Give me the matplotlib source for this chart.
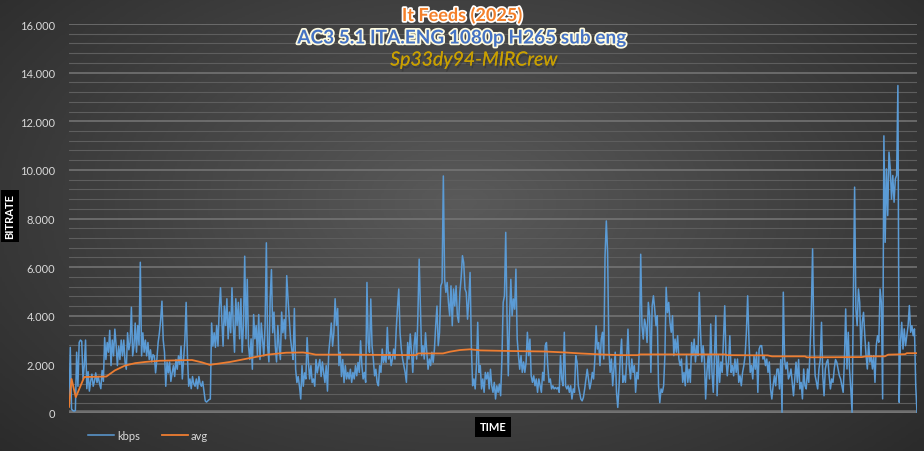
import numpy as np
import matplotlib
matplotlib.use("Agg")
import matplotlib.pyplot as plt
import matplotlib.patheffects as pe
from matplotlib.ticker import MultipleLocator, FuncFormatter

# bitrate samples (kbps), left to right
kbps_part1 = [300, 2700, 160, 100, 80, 100, 2500, 1100, 2900, 3000, 2950, 1400, 1950, 3000, 1000,
              1700, 900, 1300, 1600, 1100, 1300, 1650, 1250, 1500, 1200, 1000, 1750, 1300, 3100,
              2200, 2900, 2500, 3400, 1950, 3000, 2350, 3450, 2800, 1950, 2750, 2200, 3000, 2350,
              3000, 2100, 1800, 3300, 2600, 2900, 4350, 2350, 2750, 3700, 2500, 3600, 2800, 6200,
              2350, 3300, 2500, 3000, 2350, 2900, 2200, 2600, 2100, 2400, 2350, 1650, 2200, 2900,
              3300, 3850, 4600, 3000, 2500, 1100, 2100, 1650, 2100, 1300, 1650, 1950, 1500, 2200,
              1800, 2350, 2000, 2750, 1400, 2200, 3000, 4550, 2350, 1100, 1400, 1000, 1500, 1200,
              1100, 1400, 1000, 1500, 1200, 1100, 1300, 900, 500, 450, 500, 550]
kbps_part2 = [575, 3700, 2750, 3300, 2700, 3600, 2750, 4300, 5150, 3850, 2750, 4400, 3600, 4700,
              3050, 4150, 3300, 5150, 3600, 2500, 4700, 3600, 4550, 3050, 4700, 2500, 3600, 6450,
              3050, 5500, 2750, 2200, 3050, 1800, 4050, 3050, 3600, 2350, 4050, 2200, 3700, 3050,
              2350, 3600, 7000, 2750, 2100, 4700, 5900, 3300, 4150, 2750, 2100, 3600, 2750, 2200,
              4150, 3300, 3850, 3050, 5650, 4700, 3850, 3050, 2600, 2200, 4300, 1800, 1250, 1500,
              1100, 575, 1950, 1100, 1650, 1400, 3100, 2100, 1400, 1950, 1250, 1400, 1100, 2200,
              1650, 1950, 2200, 1500, 2100, 1650, 1250, 1950, 900, 2500, 3050, 3700, 2750, 3300,
              4700, 3600, 4300, 1950, 2500, 1500, 2200, 1250, 1950, 1400]
kbps_part3 = [1670, 1400, 1800, 1260, 1670, 1400, 1950, 1530, 2080, 1670, 2970, 1950, 1400, 1670,
              1260, 5370, 2900, 2500, 4690, 2770, 2220, 1530, 1800, 1260, 1120, 1950, 1670, 2630,
              2080, 2360, 2080, 3520, 2220, 2500, 1950, 2220, 2630, 2220, 3450, 4340, 5100, 3300,
              2630, 2220, 1950, 1670, 1260, 2900, 2220, 3250, 2500, 1670, 2770, 3300, 2220, 4000,
              6330, 4400, 2360, 2770, 2220, 3300, 2500, 1800, 2220, 1950, 2500, 2080, 2630, 3590,
              4400, 2770, 3300, 5230, 5370, 9750, 5500, 4960, 5370, 4550, 4000, 5230, 3590, 5100,
              4400, 5230, 4000, 3730, 4960, 5570, 6470, 6180, 5100, 4960, 3860, 4690, 5780, 2770,
              1120, 1400, 990, 1950, 3730, 1670, 1950, 990, 1400, 850, 1670, 1400]
kbps_part4 = [1670, 990, 1800, 1120, 850, 1260, 575, 1120, 850, 1190, 710, 2220, 4550, 4820, 7430,
              4000, 1530, 3860, 5500, 4000, 4690, 4270, 5920, 3040, 2360, 1800, 2360, 1670, 2100,
              1670, 2100, 3320, 2360, 3040, 1530, 1260, 1530, 1120, 1400, 850, 1400, 1120, 850,
              1670, 1330, 2770, 2900, 1950, 1260, 1400, 990, 1120, 990, 1050, 990, 1050, 850, 2360,
              1400, 1120, 3320, 1120, 990, 1120, 850, 1120, 575, 990, 850, 2360, 2100, 1120, 850,
              575, 500, 640, 990, 1400, 1800, 1400, 990, 1260, 1670, 1400, 2220, 3590, 2630, 2900,
              1950, 3040, 3320, 2220, 6470, 7900, 6600, 2630, 1670, 2220, 1120, 1800, 2500, 850,
              230, 1120, 2360, 3040, 1260, 1530, 1260, 2220, 3450, 1950, 1400]
kbps_part5 = [2220, 1670, 1950, 850, 1670, 1400, 2770, 6530, 3590, 3040, 3860, 3590, 2900, 4550,
              4000, 1670, 4410, 4820, 4270, 3590, 4000, 1120, 425, 990, 850, 1120, 2360, 5170, 4130,
              4550, 3720, 3320, 4000, 2360, 3040, 2500, 3180, 2220, 1950, 2220, 1260, 1670, 1120,
              2360, 1260, 1800, 1260, 2900, 2360, 3040, 2100, 2770, 2360, 4960, 3320, 2100, 2770,
              2220, 575, 1670, 2360, 1400, 3660, 1670, 850, 2360, 4000, 710, 2360, 1260, 2100,
              1670, 3040, 4410, 2220, 1530, 2100, 3180, 1670, 1950, 1530, 2220, 1670, 2220, 1260,
              1530, 1120, 1670, 1950, 2360, 3320, 4820, 3040, 1670, 1950, 1400, 2360, 1800, 2500,
              850, 2630, 2770, 2770, 2220, 2360, 1950, 2220, 1670, 2100, 990, 575, 1120, 1530, 1120,
              1800]
kbps_part6 = [1810, 990, 2200, 30, 4970, 2200, 1810, 2090, 1400, 1540, 1810, 1260, 710,
              1400, 2090, 1260, 2200, 990, 1260, 580, 1810, 1120, 990, 1810, 1260,
              2630, 4140, 6750, 2910, 1540, 1260, 990, 1810, 2200, 3730, 1540, 710,
              1810, 2090, 2200, 1540, 990, 1400, 1260, 1810, 2200, 2090, 1810, 1540,
              1400, 1120, 850, 2200, 4280, 1810, 3320, 1810, 990, 30, 4550, 9290, 4280, 3590, 5100,
              4550, 2360, 3730, 4140, 3180, 2360, 1810, 2910, 2090, 2360, 1810, 2360, 1260, 2770,
              3180, 2910, 5100, 4550, 580, 11400, 7020, 10040, 8120, 10730, 10040, 8800, 9770, 8670,
              9630, 9770, 13470, 440, 2910, 3730, 2630, 3460, 2770, 3180, 3590,
              4420, 3320, 3590, 3180, 3460, 1120, 30]
kbps = kbps_part1 + kbps_part2 + kbps_part3 + kbps_part4 + kbps_part5 + kbps_part6

# running average, read as (% of runtime, kbps)
avg_pct = [0, 0.3, 0.8, 1.8, 4.4, 5.4, 6.6, 7.8, 9.0, 10.7, 14.5, 15.7, 16.6, 19.0, 21.2, 23.4,
           25.6, 27.6, 28.4, 29.1, 32.9, 40.9, 41.2, 44.1, 44.9, 46.1, 47.3, 48.5, 52.0, 56.1,
           58.5, 60.3, 62.6, 65.0, 67.1, 67.3, 77.4, 77.6, 82.4, 82.9, 86.8, 87.0, 93.5, 94.0,
           96.2, 96.6, 98.6, 98.8, 100]
avg_val = [250, 1400, 650, 1480, 1500, 1750, 1950, 2050, 2100, 2150, 2180, 2080, 1980, 2100, 2250,
           2400, 2480, 2490, 2450, 2400, 2400, 2380, 2450, 2450, 2520, 2590, 2620, 2575, 2550, 2530,
           2490, 2450, 2410, 2380, 2380, 2410, 2410, 2380, 2370, 2330, 2330, 2290, 2300, 2330,
           2330, 2400, 2420, 2460, 2460]

title1 = "It Feeds (2025)"
title2 = "AC3 5.1 ITA.ENG 1080p H265 sub eng"
title3 = "Sp33dy94-MIRCrew"

plt.rcParams['font.family'] = ['Lato', 'DejaVu Sans']

W, H = 924, 452
fig = plt.figure(figsize=(W / 100, H / 100), dpi=100)

# dark radial background
bg = fig.add_axes([0, 0, 1, 1], zorder=-5)
yy, xx = np.mgrid[0:1:200j, 0:1:400j]
r = np.sqrt(((xx - 0.5) / 0.75) ** 2 + ((yy - 0.45) / 0.9) ** 2)
bg.imshow(np.clip(r, 0, 1), cmap=matplotlib.colors.LinearSegmentedColormap.from_list(
    "bg", ["#5a5a5a", "#262626"]), aspect="auto", extent=[0, 1, 0, 1], vmin=0, vmax=1)
bg.axis("off")

ax = fig.add_axes([69 / W, 1 - 414 / H, 848 / W, 389 / H])
ax.set_facecolor("none")
for s in ax.spines.values():
    s.set_visible(False)

x = np.arange(len(kbps))
ax.plot(x, kbps, color="#5b9bd5", lw=1.1, zorder=3, label="kbps")
ax.plot(np.array(avg_pct) / 100 * (len(kbps) - 1), avg_val, color="#ed7d31", lw=1.3, zorder=4,
        label="avg")

ax.set_xlim(0, len(kbps) - 1)
ax.set_ylim(0, 16000)
ax.yaxis.set_major_locator(MultipleLocator(2000))
ax.yaxis.set_minor_locator(MultipleLocator(400))
ax.yaxis.set_major_formatter(FuncFormatter(lambda v, p: f"{int(v):,}".replace(",", ".")))
ax.grid(which="major", axis="y", color="#777777", lw=1.1, zorder=0)
ax.grid(which="minor", axis="y", color="#5e5e5e", lw=0.8, zorder=0)
ax.axhline(0, color="#6e6e6e", lw=4, zorder=1)
ax.tick_params(axis="both", which="both", length=0)
ax.tick_params(axis="y", colors="#d9d9d9", labelsize=8, pad=10)
ax.set_xticks([])

# axis titles in black boxes
fig.text(10 / W, 1 - 217 / H, "BITRATE", rotation=90, color="white", fontsize=8,
         fontweight="bold", ha="center", va="center",
         bbox=dict(boxstyle="square,pad=0.35", fc="black", ec="none"))
fig.text(493 / W, 1 - 428 / H, "TIME", color="white", fontsize=8, fontweight="bold",
         ha="center", va="center", bbox=dict(boxstyle="square,pad=0.4", fc="black", ec="none"))

# titles
fig.text(462 / W, 1 - 16 / H, title1, color="#f4802a", fontsize=13, fontweight="bold",
         ha="center", va="center",
         path_effects=[pe.withStroke(linewidth=2.5, foreground="white")])
fig.text(462 / W, 1 - 39 / H, title2, color="#4472c4", fontsize=13.7, fontweight="bold",
         ha="center", va="center",
         path_effects=[pe.withStroke(linewidth=2.5, foreground="#fffbe0")])
fig.text(474 / W, 1 - 61 / H, title3, color="#c9a000", fontsize=14, style="italic",
         ha="center", va="center",
         path_effects=[pe.withSimplePatchShadow(offset=(1, -2), shadow_rgbFace="#222222"),
                       pe.Normal()])

leg = fig.legend(loc="lower left", bbox_to_anchor=(78 / W, 0.0), ncol=2, frameon=False,
                 fontsize=8, handlelength=2.3, columnspacing=2.0, handletextpad=0.3)
for t in leg.get_texts():
    t.set_color("#d9d9d9")

fig.savefig("out.png", dpi=100)
